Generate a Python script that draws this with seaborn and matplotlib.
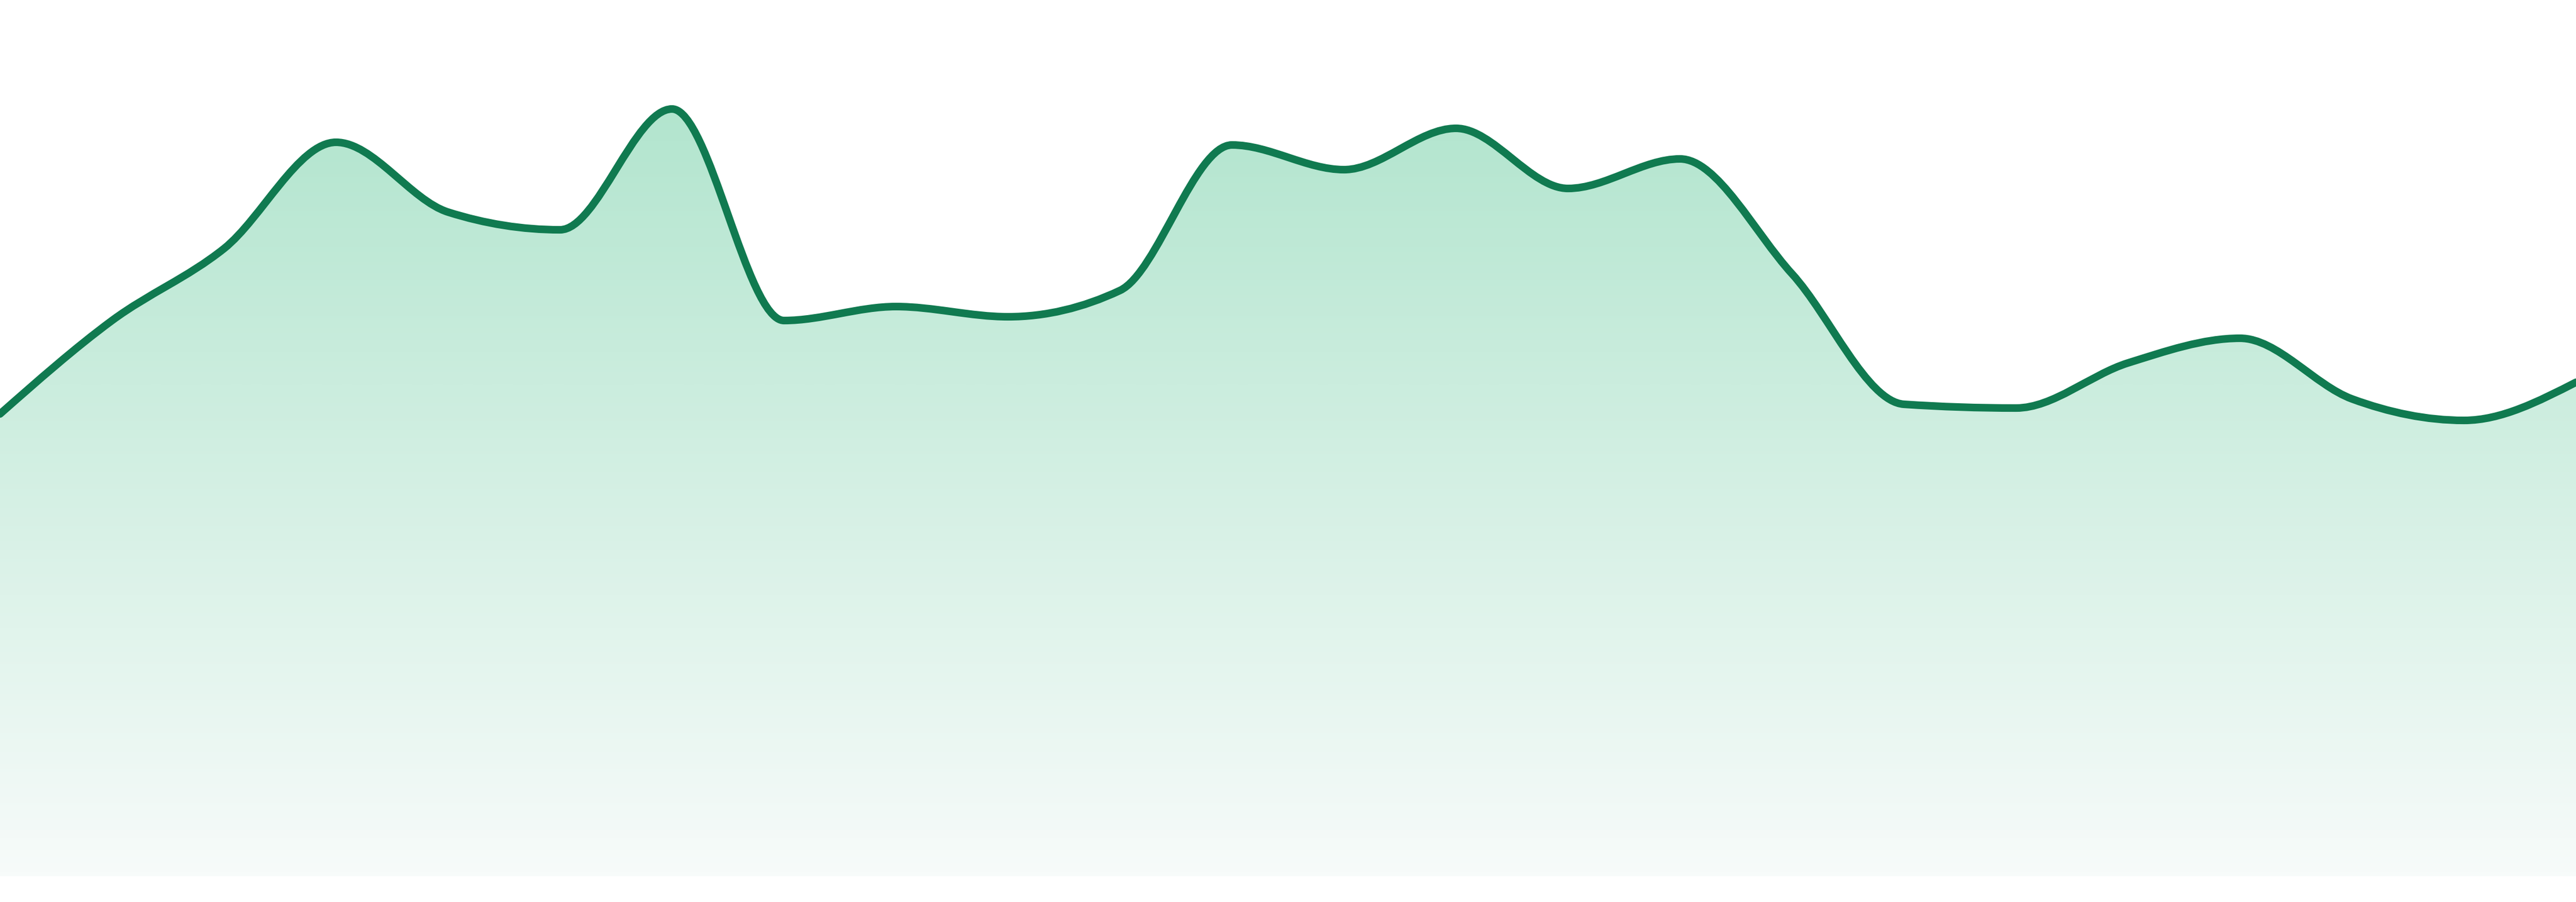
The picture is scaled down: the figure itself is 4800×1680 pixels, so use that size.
import numpy as np
import seaborn as sns
from matplotlib import pyplot as plt
from matplotlib.path import Path
from matplotlib.patches import PathPatch
from matplotlib.colors import LinearSegmentedColormap

# values (24 evenly spaced points, baseline = 0)
points = list(range(24))
values = [861, 1035, 1169, 1367, 1237, 1204, 1429, 1035, 1061, 1042, 1091, 1362,
          1316, 1393, 1281, 1336, 1122, 879, 872, 956, 1002, 889, 849, 920]

line_color = '#107a50'
fill_top = '#b2e5ce'
fill_bottom = '#f7fbfa'

sns.set_theme(style='white')


def monotone_path(x, y):
    # cubic bezier segments, same rule as d3.curveMonotoneX
    x = np.asarray(x, float)
    y = np.asarray(y, float)
    n = len(x)
    h = np.diff(x)
    s = np.diff(y) / h
    t = np.zeros(n)
    for i in range(1, n - 1):
        p = (s[i - 1] * h[i] + s[i] * h[i - 1]) / (h[i - 1] + h[i])
        t[i] = (np.sign(s[i - 1]) + np.sign(s[i])) * min(abs(s[i - 1]), abs(s[i]), 0.5 * abs(p))
    t[0] = (3 * s[0] - t[1]) / 2
    t[-1] = (3 * s[-1] - t[-2]) / 2
    verts = [(x[0], y[0])]
    codes = [Path.MOVETO]
    for i in range(n - 1):
        dx = h[i] / 3
        verts += [(x[i] + dx, y[i] + dx * t[i]),
                  (x[i + 1] - dx, y[i + 1] - dx * t[i + 1]),
                  (x[i + 1], y[i + 1])]
        codes += [Path.CURVE4] * 3
    return verts, codes


fig = plt.figure(figsize=(16, 5.6), dpi=300)
ax = fig.add_axes([0, 0, 1, 1])
ax.set_xlim(points[0], points[-1])
ax.set_ylim(-48, 1632)
ax.axis('off')

verts, codes = monotone_path(points, values)

# area below the curve, filled with a vertical gradient
area_verts = verts + [(points[-1], 0), (points[0], 0), verts[0]]
area_codes = codes + [Path.LINETO, Path.LINETO, Path.CLOSEPOLY]
area = PathPatch(Path(area_verts, area_codes), facecolor='none', edgecolor='none')
ax.add_patch(area)

cmap = LinearSegmentedColormap.from_list('fade', [fill_bottom, fill_top])
grad = np.linspace(1, 0, 256).reshape(-1, 1)
img = ax.imshow(grad, cmap=cmap, aspect='auto', interpolation='bicubic',
                extent=[points[0], points[-1], 0, max(values) + 10], zorder=1)
img.set_clip_path(area)

ax.add_patch(PathPatch(Path(verts, codes), facecolor='none', edgecolor=line_color,
                       lw=3.4, capstyle='round', joinstyle='round', zorder=2))

fig.savefig('out.png', dpi=300, facecolor='white')
plt.close(fig)
